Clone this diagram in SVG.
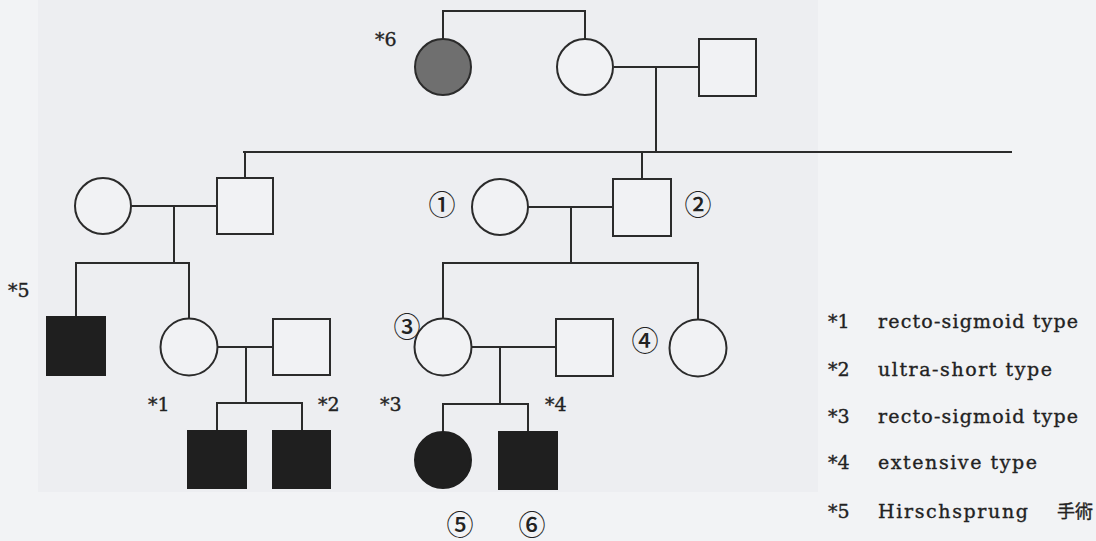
<svg xmlns="http://www.w3.org/2000/svg" width="1096" height="541" viewBox="0 0 1096 541">
<style>
.ln{fill:none;stroke:#2b2b2b;stroke-width:2}
.o{fill:#f1f2f4;stroke:#2b2b2b;stroke-width:2}
.b{fill:#1f1f1f;stroke:#1f1f1f;stroke-width:2}
.g{fill:#6f6f6f;stroke:#2b2b2b;stroke-width:2}
.t{font-family:"DejaVu Serif","Liberation Serif",serif;font-size:19px;fill:#222;stroke:#222;stroke-width:0.35}
.c{font-family:"Noto Sans CJK JP",sans-serif;font-size:27px;font-weight:500;fill:#222;text-anchor:middle}
</style>
<rect x="0" y="0" width="1096" height="541" fill="#f2f3f5"/>
<rect x="38" y="0" width="780" height="492" fill="#edeef1"/>
<g id="connectors" class="ln">
<path d="M443,39 V11 H585 V39"/>
<path d="M614,67 H699"/>
<path d="M656,67 V152"/>
<path d="M243,152 H1012"/>
<path d="M245,152 V178"/>
<path d="M642,152 V179"/>
<path d="M131,206 H217"/>
<path d="M174,206 V263"/>
<path d="M76,317 V263 H189 V318"/>
<path d="M218,347 H273"/>
<path d="M246,347 V403"/>
<path d="M217,431 V403 H302 V431"/>
<path d="M528,207 H613"/>
<path d="M571,207 V263"/>
<path d="M443,319 V263 H698 V320"/>
<path d="M471,347 H556"/>
<path d="M500,347 V404"/>
<path d="M443,432 V404 H528 V432"/>
</g>
<g id="n-gray-aunt"><circle class="g" cx="443" cy="67" r="28"/></g>
<g id="n-grandmother"><circle class="o" cx="585" cy="67" r="28"/></g>
<g id="n-grandfather"><rect class="o" x="699" y="39" width="57" height="57"/></g>
<g id="n-left-wife"><circle class="o" cx="103" cy="206" r="28"/></g>
<g id="n-left-son"><rect class="o" x="217" y="178" width="56" height="56"/></g>
<g id="n-1"><circle class="o" cx="500" cy="207" r="28"/></g>
<g id="n-2"><rect class="o" x="613" y="179" width="58" height="57"/></g>
<g id="n-star5"><rect class="b" x="47" y="317" width="58" height="58"/></g>
<g id="n-star1"><circle class="o" cx="189" cy="347" r="28.5"/></g>
<g id="n-star1-husband"><rect class="o" x="273" y="319" width="57" height="56"/></g>
<g id="n-child-a"><rect class="b" x="188" y="431" width="58" height="57"/></g>
<g id="n-child-b"><rect class="b" x="273" y="431" width="57" height="57"/></g>
<g id="n-3"><circle class="o" cx="443" cy="347" r="28.5"/></g>
<g id="n-3-husband"><rect class="o" x="556" y="319" width="57" height="57"/></g>
<g id="n-4"><circle class="o" cx="698" cy="348" r="28.5"/></g>
<g id="n-5"><circle class="b" cx="443" cy="460" r="28"/></g>
<g id="n-6"><rect class="b" x="499" y="432" width="58" height="57"/></g>
<g id="labels">
<text class="t" x="375" y="46">*6</text>
<text class="t" x="8" y="297">*5</text>
<text class="t" x="148" y="411">*1</text>
<text class="t" x="318" y="411">*2</text>
<text class="t" x="380" y="411">*3</text>
<text class="t" x="545" y="411">*4</text>
<text class="c" x="442" y="215">①</text>
<text class="c" x="698" y="215">②</text>
<text class="c" x="407" y="337">③</text>
<text class="c" x="645" y="351">④</text>
<text class="c" x="460" y="535">⑤</text>
<text class="c" x="532" y="535">⑥</text>
</g>
<g id="legend" class="t">
<text x="828" y="328">*1</text>
<text x="878" y="328" textLength="200">recto-sigmoid type</text>
<text x="828" y="376">*2</text>
<text x="878" y="376" textLength="174">ultra-short type</text>
<text x="828" y="423">*3</text>
<text x="878" y="423" textLength="200">recto-sigmoid type</text>
<text x="828" y="469">*4</text>
<text x="878" y="469" textLength="159">extensive type</text>
<text x="828" y="518">*5</text>
<text x="878" y="518" textLength="150">Hirschsprung</text>
<text x="1057" y="518" style="font-family:'Noto Sans CJK JP',sans-serif;font-size:18px">手術</text>
</g>
</svg>
